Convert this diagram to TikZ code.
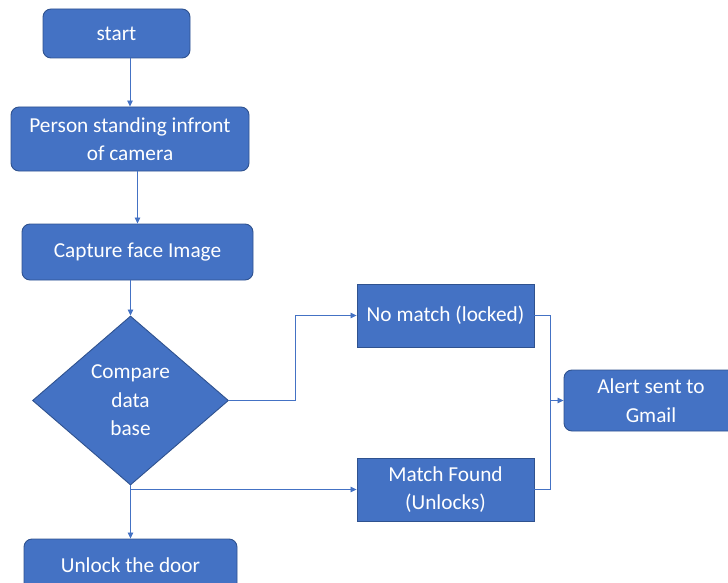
\documentclass[tikz,border=0pt]{standalone}
\usepackage{fontspec}
\setmainfont{Carlito}
\usetikzlibrary{shapes.geometric,arrows.meta,calc}
\definecolor{boxfill}{HTML}{4472C4}
\definecolor{boxline}{HTML}{2F528F}
\definecolor{conn}{HTML}{4472C4}
\tikzset{
  base/.style={fill=boxfill, draw=boxline, line width=0.9pt, text=white, align=center, inner sep=0pt,
    font=\fontsize{21.3}{28.5}\selectfont},
  rbox/.style={base, rectangle, rounded corners=8pt},
  sbox/.style={base, rectangle},
  dbox/.style={base, diamond},
  lbl/.style={text=white, align=center, inner sep=0pt, font=\fontsize{21.3}{28.5}\selectfont},
  conline/.style={draw=conn, line width=0.8pt},
  arr/.style={conline, -{Triangle[length=6pt,width=5.5pt]}}
}
\begin{document}
\begin{tikzpicture}[x=1pt,y=-1pt]
\useasboundingbox (0,0) rectangle (728,583);
\clip (0,0) rectangle (728,583);
\node[rbox, minimum width=147pt, minimum height=49pt] (start) at (116.5,33.5) {start};
\node[rbox, minimum width=238pt, minimum height=64pt] (person) at (130,139) {Person standing infront\\of camera};
\node[rbox, minimum width=231pt, minimum height=56pt] (capture) at (137.5,252) {Capture face Image};
\node[dbox, minimum width=196pt, minimum height=169pt] (cmp) at (130.5,400.5) {};
\node[lbl] (cmptext) at (cmp.center) {Compare\\data\\base};
\node[rbox, minimum width=213pt, minimum height=52pt] (unlock) at (130.5,565) {Unlock the door};
\node[sbox, minimum width=177pt, minimum height=63pt] (nomatch) at (445.5,315.5) {No match (locked)};
\node[sbox, minimum width=177pt, minimum height=63pt] (match) at (445.5,489.5) {Match Found\\(Unlocks)};
\node[rbox, minimum width=174pt, minimum height=61pt] (alert) at (651,400.5) {Alert sent to\\Gmail};

\draw[arr] (person |- start.south) -- (person.north);
\draw[arr] (capture |- person.south) -- (capture.north);
\draw[arr] (cmp |- capture.south) -- (cmp.north);
\draw[arr] (cmp.east) -- ++(66,0) |- (nomatch.west);
\draw[arr] (cmp.south) -- (unlock.north);
\draw[arr] (cmp.south |- match.west) -- (match.west);
\draw[conline] (nomatch.east) -- ++(16,0) coordinate (j1) -- (j1 |- match.east) -- (match.east);
\draw[arr] (j1 |- alert.west) -- (alert.west);
\end{tikzpicture}
\end{document}
